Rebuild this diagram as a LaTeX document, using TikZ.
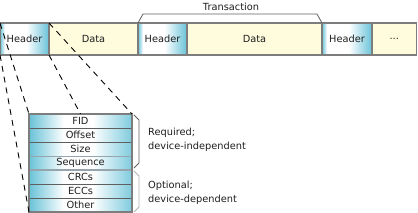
\documentclass[tikz,border=0pt]{standalone}
\usepackage{fontspec}
\setmainfont{DejaVu Sans}
\usetikzlibrary{positioning,calc}

\definecolor{hdrcyan}{RGB}{104,194,216}
\definecolor{datayellow}{RGB}{255,252,222}
\definecolor{boxgray}{RGB}{125,125,125}
\definecolor{rowgray}{RGB}{95,95,95}
\definecolor{lightsep}{RGB}{150,165,172}
\definecolor{txtgray}{RGB}{30,30,30}

\pgfdeclarehorizontalshading{hdrshade}{100bp}{color(0bp)=(hdrcyan); color(25bp)=(hdrcyan); color(30bp)=(white); color(52bp)=(white); color(75bp)=(hdrcyan); color(100bp)=(hdrcyan)}
\pgfdeclarehorizontalshading{rowshade}{100bp}{color(0bp)=(hdrcyan); color(25bp)=(hdrcyan); color(42bp)=(white); color(56bp)=(white); color(75bp)=(hdrcyan!85!white); color(100bp)=(hdrcyan!85!white)}

\tikzset{
  field/.style={draw=boxgray, line width=1.3pt, minimum height=32, inner sep=0, outer sep=0, text=txtgray},
  hdr/.style={field, shading=hdrshade, minimum width=49},
  data/.style={field, fill=datayellow},
  row/.style={draw=rowgray, line width=0.7pt, shading=rowshade, minimum width=103, minimum height=14, inner sep=0, outer sep=0, text=txtgray},
  zoomline/.style={black, line width=0.9pt, dash pattern=on 6pt off 5pt},
  brace/.style={line width=0.8pt},
  note/.style={anchor=west, align=left, inner sep=0, text=txtgray}
}

\begin{document}
\begin{tikzpicture}[x=1pt, y=-1pt, font=\fontsize{9.8}{14}\selectfont]
    \useasboundingbox (0,0) rectangle (418,213);

    % Message: headers and data
    \node[hdr, anchor=north west] (hdrA) at (0,23) {Header};
    \node[data, minimum width=89, right=0pt of hdrA] (dataA) {Data};
    \node[hdr, right=0pt of dataA] (hdrB) {Header};
    \node[data, minimum width=135, right=0pt of hdrB] (dataB) {Data};
    \node[hdr, minimum width=50, right=0pt of dataB] (hdrC) {Header};
    \node[data, minimum width=44.5, right=0pt of hdrC] (more) {...};

    % Transaction bracket
    \draw[brace, rowgray] (hdrB.north west) -- ++(5,-9) -- ($(hdrC.north west)+(-5,-9)$) -- (hdrC.north west);
    \node[text=txtgray] (trans) at (231,6.5) {Transaction};

    % Header fields
    \node[row, anchor=north west] (fid) at (29,114) {FID};
    \node[row, below=0pt of fid] (offset) {Offset};
    \node[row, below=0pt of offset] (size) {Size};
    \node[row, below=0pt of size] (seq) {Sequence};
    \node[row, below=0pt of seq] (crc) {CRCs};
    \node[row, below=0pt of crc] (ecc) {ECCs};
    \node[row, below=0pt of ecc] (other) {Other};
    \draw[lightsep, line width=0.9pt] (size.south west) -- (size.south east);
    \draw[lightsep, line width=1.8pt] (seq.south west) -- (seq.south east);
    \draw[boxgray, line width=1.1pt] (fid.north west) rectangle (other.south east);

    % Zoom lines from the first header
    \draw[zoomline] (hdrA.north west) -- (fid.north west);
    \draw[zoomline] (hdrA.south west) -- (other.south west);
    \draw[zoomline] (hdrA.south east) -- (fid.north);
    \draw[zoomline] (hdrA.north east) -- (fid.north east);

    % Required / optional braces
    \draw[brace, rowgray] ($(fid.north east)+(2,1)$) -- ++(5,5) -- ($(seq.south east)+(7,-7)$) -- ($(seq.south east)+(2,-2)$);
    \draw[brace, black!30] ($(crc.north east)+(2,1)$) -- ++(5,5) -- ($(other.south east)+(7,-5)$) -- ($(other.south east)+(2,0)$);
    \node[note] (req) at (148,140) {Required;\\device-independent};
    \node[note] (opt) at (148,193) {Optional;\\device-dependent};
\end{tikzpicture}
\end{document}
